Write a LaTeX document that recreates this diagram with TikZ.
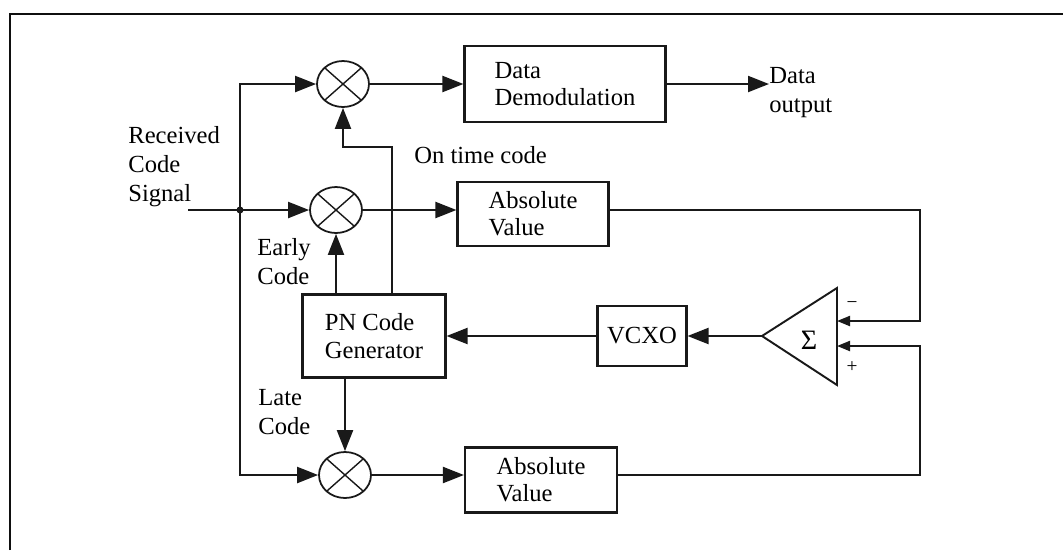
\documentclass[tikz,border=0pt]{standalone}
\usepackage{fontspec}
\setmainfont{Liberation Serif}
\usepackage{tikz}
\usetikzlibrary{arrows.meta}
\usetikzlibrary{shapes.geometric}
\definecolor{ColLine}{RGB}{25,25,25}
\definecolor{ColFrame}{RGB}{15,15,15}
\tikzstyle{FrameLine}=[ColFrame,line width=1.4pt]
\tikzstyle{BlockLine}=[draw=ColLine,line width=1.1pt,line join=miter]
\tikzstyle{BlockNode}=[rectangle,draw=ColLine,line width=1.2pt,align=left,inner sep=2pt,
font=\fontsize{14}{15.5}\selectfont]
\tikzstyle{MixerNode}=[ellipse,draw=ColLine,line width=1pt,minimum width=1.04cm,
minimum height=0.92cm,inner sep=0pt,
path picture={\draw[ColLine,line width=0.8pt](path picture bounding box.north west)--(path picture bounding box.south east)
(path picture bounding box.north east)--(path picture bounding box.south west);}]
\tikzstyle{LabelNode}=[align=left,inner sep=0pt,font=\fontsize{14}{16.5}\selectfont]
\tikzstyle{SignNode}=[inner sep=0pt,font=\fontsize{11}{12}\selectfont]
\tikzstyle{EdgeWire}=[ColLine,line width=1.2pt]
\tikzstyle{ArrowWire}=[ColLine,line width=1.2pt,-{Triangle[length=0.42cm,width=0.32cm]}]
\tikzstyle{SmallArrow}=[ColLine,line width=1.2pt,-{Triangle[length=0.26cm,width=0.2cm]}]

\begin{document}
\begin{tikzpicture}[x=0.2mm,y=-0.2mm]
        \useasboundingbox(0,0)rectangle(1063,550);
        \draw[FrameLine](10,550)--(10,14)--(1063,14);
        % mixers
        \node[MixerNode](m1)at(343,84){};
        \node[MixerNode](m2)at(336,210){};
        \node[MixerNode](m3)at(345,475){};
        % blocks
        \node[BlockNode,minimum width=4.02cm,minimum height=1.52cm](dd)at(565,84){Data\\Demodulation};
        \node[BlockNode,minimum width=3.02cm,minimum height=1.28cm](av1)at(533,214){Absolute\\Value};
        \node[BlockNode,minimum width=3.04cm,minimum height=1.3cm](av2)at(541,480){Absolute\\Value};
        \node[BlockNode,minimum width=1.78cm,minimum height=1.2cm](vc)at(642,336){VCXO};
        \node[BlockNode,minimum width=2.86cm,minimum height=1.66cm](pn)at(374,336){PN Code\\Generator};
        % summer
        \coordinate(st)at(762,336);
        \coordinate(su)at(837,288);
        \coordinate(sd)at(837,385);
        \coordinate(sa)at(837,321);
        \coordinate(sb)at(837,346);
        \draw[BlockLine](st)--(su)--(sd)--cycle;
        \node[LabelNode,font=\fontsize{16}{17}\selectfont](s)at(809,340){Σ};
        \node[SignNode](sgm)at(852,305){−};
        \node[SignNode](sgp)at(852,367){+};
        % labels
        \node[LabelNode,anchor=west](rx)at(128,167){Received\\Code\\Signal};
        \node[LabelNode,anchor=west](otc)at(414,155){On time code};
        \node[LabelNode,anchor=west](ec)at(257,262){Early\\Code};
        \node[LabelNode,anchor=west](lc)at(258,412){Late\\Code};
        \node[LabelNode,anchor=west](do)at(769,93){Data\\output};
        % wires
        \coordinate(in)at(188,210);
        \coordinate(j)at(240,210);
        \coordinate(ot)at(392,147);
        \coordinate(ra)at(920,321);
        \coordinate(rb)at(920,346);
        \draw[EdgeWire](in)--(j);
        \fill[ColLine](j)circle(2pt);
        \draw[ArrowWire](j)--(m2);
        \draw[ArrowWire](j)|-(m1);
        \draw[ArrowWire](j)|-(m3);
        \draw[ArrowWire](m1)--(dd);
        \draw[ArrowWire](dd.east)--(dd.east-|do.west);
        \draw[ArrowWire](m2)--(m2-|av1.west);
        \draw[ArrowWire](m3)--(m3-|av2.west);
        \draw[SmallArrow](av1.east|-m2)-|(ra)--(sa);
        \draw[SmallArrow](av2.east|-m3)-|(rb)--(sb);
        \draw[ArrowWire](st)--(vc);
        \draw[ArrowWire](vc)--(pn);
        \draw[ArrowWire](pn.north-|m2)--(m2);
        \draw[ArrowWire](pn.north-|ot)--(ot)-|(m1);
        \draw[ArrowWire](pn.south-|m3)--(m3);
    \end{tikzpicture}
\end{document}
